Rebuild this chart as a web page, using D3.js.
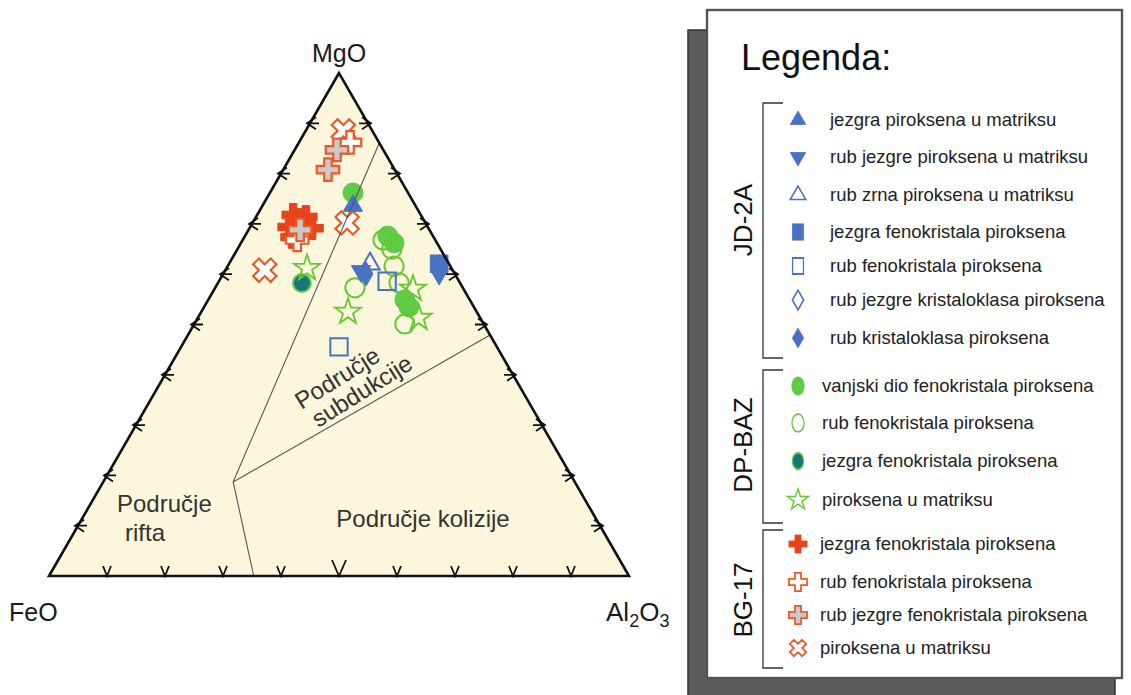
<!DOCTYPE html>
<html><head><meta charset="utf-8">
<script src="https://cdn.jsdelivr.net/npm/d3@7"></script>
<style>body{margin:0;background:#fff}svg{display:block;font-family:Arial,"Liberation Sans",sans-serif}</style>
</head><body><svg id="c" width="1131" height="695"></svg>
<script>
// ---------- data (ternary compositions: [MgO, FeO, Al2O3]) ----------
const axisNames = ["MgO", "FeO", "Al2O3"];
const tickValues = [10, 20, 30, 40, 50, 60, 70, 80, 90];

// field boundaries
const boundaryJunction = [18.7, 58.9, 22.4];
const boundaryTop = [86.1, 0, 13.9];
const boundaryBottom = [0, 64.7, 35.3];
const boundaryRight = [47.9, 0, 52.1];

// BG-17
const bgCore = [[71.8,22.0,6.2],[71.4,20.0,8.6],[69.4,23.9,6.7],[70.8,21.3,7.9],[69.2,20.1,10.8],[67.4,24.4,8.2]];
const bgRim = [[86.3,5.0,8.8],[66.8,23.8,9.4]];
const bgCoreRim = [[84.7,8.0,7.3],[80.7,11.5,7.7],[68.8,22.3,8.9]];
const bgMatrix = [[88.5,5.0,6.5],[70.2,13.5,16.3],[60.8,32.4,6.8]];
// DP-BAZ
const dpOuter = [[76.1,9.5,14.3],[67.6,7.8,24.6],[66.2,7.4,26.4],[54.9,11.2,33.9],[53.5,11.2,35.3]];
const dpRim = [[66.8,9.0,24.2],[65.0,8.4,26.6],[61.6,9.7,28.7],[58.3,10.5,31.2],[57.3,18.6,24.1],[50.1,13.6,36.3]];
const dpCore = [[58.3,27.3,14.5]];
const dpMatrix = [[61.2,24.9,13.9],[52.5,22.2,25.3],[57.1,8.7,34.2],[51.3,10.6,38.1]];
// JD-2A
const jdMatrixCore = [[73.6,10.8,15.6]];
const jdMatrixCoreRim = [[60.6,15.9,23.5]];
const jdGrainRim = [[62.0,13.6,24.3]];
const jdPhenoCore = [[62.0,1.7,36.2]];
const jdPhenoRim = [[58.6,12.4,29.0],[45.5,27.2,27.2]];
const jdClastCoreRim = [];
const jdClastRim = [[60.2,2.6,37.1],[60.0,15.3,24.6]];

// legend
const legendTitle = "Legenda:";
const groupNames = ["JD-2A", "DP-BAZ", "BG-17"];
const jdLabels = ["jezgra piroksena u matriksu","rub jezgre piroksena u matriksu","rub zrna piroksena u matriksu","jezgra fenokristala piroksena","rub fenokristala piroksena","rub jezgre kristaloklasa piroksena","rub kristaloklasa piroksena"];
const dpLabels = ["vanjski dio fenokristala piroksena","rub fenokristala piroksena","jezgra fenokristala piroksena","piroksena u matriksu"];
const bgLabels = ["jezgra fenokristala piroksena","rub fenokristala piroksena","rub jezgre fenokristala piroksena","piroksena u matriksu"];
const fieldLabels = ["Područje rifta","Područje kolizije","Područje subdukcije"];

// ---------- styles ----------
const BLUE="#4a72c4", GREEN="#5fcb46", GREEN_L="#66c832", TEAL="#17767a", RED="#e8431b", ORANGE="#ea5a26", GRAY="#c9c9c9";
const styles = {
  bgCore:{sym:d3.symbolCross,size:280,fill:RED,stroke:RED,sw:1},
  bgRim:{sym:d3.symbolCross,size:280,fill:"#fff",stroke:ORANGE,sw:2.2},
  bgCoreRim:{sym:d3.symbolCross,size:280,fill:GRAY,stroke:ORANGE,sw:2.2},
  bgMatrix:{sym:d3.symbolCross,size:340,fill:"#fff",stroke:ORANGE,sw:2.2,rot:45},
  dpOuter:{sym:d3.symbolCircle,size:310,fill:GREEN,stroke:GREEN,sw:1},
  dpRim:{sym:d3.symbolCircle,size:290,fill:"none",stroke:GREEN_L,sw:2},
  dpCore:{sym:d3.symbolCircle,size:250,fill:TEAL,stroke:GREEN,sw:2},
  dpMatrix:{sym:d3.symbolStar,size:210,fill:"none",stroke:GREEN_L,sw:1.8},
  jdMatrixCore:{sym:d3.symbolTriangle,size:160,fill:BLUE,stroke:BLUE,sw:1},
  jdMatrixCoreRim:{sym:d3.symbolTriangle,size:160,fill:BLUE,stroke:BLUE,sw:1,rot:180},
  jdGrainRim:{sym:d3.symbolTriangle,size:160,fill:"none",stroke:BLUE,sw:2},
  jdPhenoCore:{sym:d3.symbolSquare,size:310,fill:BLUE,stroke:BLUE,sw:1},
  jdPhenoRim:{sym:d3.symbolSquare,size:300,fill:"none",stroke:BLUE,sw:2},
  jdClastCoreRim:{sym:d3.symbolDiamond,size:170,fill:"none",stroke:BLUE,sw:2},
  jdClastRim:{sym:d3.symbolDiamond,size:170,fill:BLUE,stroke:BLUE,sw:1}
};

const svg = d3.select("#c");
const xS = d3.scaleLinear().domain([0,100]).range([49,629]);
const yS = d3.scaleLinear().domain([0,100]).range([576,73]);
function proj(p){ const s=p[0]+p[1]+p[2]; const mg=p[0]/s*100, al=p[2]/s*100; return [xS(al+mg/2), yS(mg)]; }

// ---------- triangle ----------
const corners = [[100,0,0],[0,100,0],[0,0,100]].map(proj);
svg.append("path").attr("d","M"+corners.map(c=>c.join(",")).join("L")+"Z")
  .attr("fill","#fcf6dc").attr("stroke","none");

// field labels
const g = svg.append("g").attr("fill","#333").attr("font-size",24);
g.append("text").attr("x",117).attr("y",512).text("Područje");
g.append("text").attr("x",125).attr("y",541).text("rifta");
g.append("text").attr("x",423).attr("y",527).attr("text-anchor","middle").text(fieldLabels[1]);
const sub = g.append("g").attr("transform","translate(354,382) rotate(-32)");
sub.append("text").attr("x",-12).attr("y",-4).attr("text-anchor","middle").text("Područje");
sub.append("text").attr("x",2).attr("y",20).attr("text-anchor","middle").text("subdukcije");

// markers
const drawOrder = ["bgMatrix","bgCore","bgRim","bgCoreRim","dpOuter","dpRim","dpCore","dpMatrix","jdPhenoRim","jdClastRim","jdMatrixCoreRim","jdGrainRim","jdMatrixCore","jdPhenoCore","jdClastCoreRim"];
const dataMap = {bgCore,bgRim,bgCoreRim,bgMatrix,dpOuter,dpRim,dpCore,dpMatrix,jdMatrixCore,jdMatrixCoreRim,jdGrainRim,jdPhenoCore,jdPhenoRim,jdClastCoreRim,jdClastRim};
const mg = svg.append("g");
drawOrder.forEach(k=>{
  const st=styles[k];
  mg.selectAll(null).data(dataMap[k]).enter().append("path")
    .attr("d", d3.symbol().type(st.sym).size(st.size))
    .attr("transform", d=>{const p=proj(d); return `translate(${p[0]},${p[1]}) rotate(${st.rot||0})`;})
    .attr("fill",st.fill).attr("stroke",st.stroke).attr("stroke-width",st.sw).attr("stroke-linejoin","miter");
});

// boundaries
const bl = svg.append("g").attr("stroke","#555").attr("stroke-width",1.1).attr("fill","none");
[[boundaryJunction,boundaryTop],[boundaryJunction,boundaryBottom],[boundaryJunction,boundaryRight]].forEach(s=>{
  const a=proj(s[0]), b=proj(s[1]);
  bl.append("line").attr("x1",a[0]).attr("y1",a[1]).attr("x2",b[0]).attr("y2",b[1]);
});

// outline
svg.append("path").attr("d","M"+corners.map(c=>c.join(",")).join("L")+"Z")
  .attr("fill","none").attr("stroke","#111").attr("stroke-width",2.6).attr("stroke-linejoin","miter");

// ticks
const tk = svg.append("g").attr("stroke","#111").attr("stroke-width",1.8).attr("fill","none");
tickValues.forEach(t=>{
  const b = proj([0,100-t,t]);
  const w = t===50?7:4, h=t===50?16:10;
  tk.append("path").attr("d",`M${b[0]-w},${b[1]-h}L${b[0]},${b[1]}L${b[0]+w},${b[1]-h}`);
  const l = proj([t,100-t,0]);
  tk.append("path").attr("d",`M${l[0]+6},${l[1]-6}L${l[0]-3},${l[1]}L${l[0]+6},${l[1]+6}M${l[0]-3},${l[1]}L${l[0]+9},${l[1]}`);
  const r = proj([t,0,100-t]);
  tk.append("path").attr("d",`M${r[0]-6},${r[1]-6}L${r[0]+3},${r[1]}L${r[0]-6},${r[1]+6}M${r[0]+3},${r[1]}L${r[0]-9},${r[1]}`);
});

// axis labels
const al = svg.append("g").attr("fill","#1a1a1a").attr("font-size",25);
al.append("text").attr("x",corners[0][0]).attr("y",62).attr("text-anchor","middle").text(axisNames[0]);
al.append("text").attr("x",9).attr("y",621).text(axisNames[1]);
const a3 = al.append("text").attr("x",606).attr("y",621).attr("font-size",26);
a3.append("tspan").text("Al");
a3.append("tspan").attr("font-size",18).attr("dy",6).text("2");
a3.append("tspan").attr("dy",-6).text("O");
a3.append("tspan").attr("font-size",18).attr("dy",6).text("3");

// ---------- legend ----------
const lg = svg.append("g");
lg.append("rect").attr("x",688).attr("y",30).attr("width",427).attr("height",680).attr("fill","#5b5b5b").attr("stroke","#333").attr("stroke-width",1.5);
lg.append("rect").attr("x",707).attr("y",10).attr("width",415).attr("height",668).attr("fill","#fff").attr("stroke","#555").attr("stroke-width",2.4);
lg.append("text").attr("x",741).attr("y",70).attr("font-size",36).attr("fill","#111").text(legendTitle);

const groups = [
  {name:groupNames[0], y0:103, y1:358, labelY:220, labels:jdLabels, keys:["jdMatrixCore","jdMatrixCoreRim","jdGrainRim","jdPhenoCore","jdPhenoRim","jdClastCoreRim","jdClastRim"], ys:[120,157,195,232,266,300,338], tx:830},
  {name:groupNames[1], y0:370, y1:523, labelY:445, labels:dpLabels, keys:["dpOuter","dpRim","dpCore","dpMatrix"], ys:[386,423,461,500], tx:822},
  {name:groupNames[2], y0:530, y1:668, labelY:600, labels:bgLabels, keys:["bgCore","bgRim","bgCoreRim","bgMatrix"], ys:[544,582,615,648], tx:820}
];
groups.forEach(gr=>{
  lg.append("path").attr("d",`M783,${gr.y0}H763V${gr.y1}H783`).attr("fill","none").attr("stroke","#333").attr("stroke-width",1.3);
  lg.append("text").attr("transform",`translate(752,${gr.labelY}) rotate(-90)`).attr("text-anchor","middle")
    .attr("font-size",26).attr("fill","#111").text(gr.name);
  gr.keys.forEach((k,i)=>{
    const st=styles[k];
    const squish = (st.sym===d3.symbolCircle||st.sym===d3.symbolSquare);
    lg.append("path").attr("d",d3.symbol().type(st.sym).size(st.size*(k==="bgMatrix"?0.5:0.65)))
      .attr("transform",`translate(798,${gr.ys[i]}) rotate(${st.rot||0}) scale(${squish?0.78:1},${squish?1.15:1})`)
      .attr("fill",st.fill).attr("stroke",st.stroke).attr("stroke-width",st.sw*0.8);
    lg.append("text").attr("x",gr.tx).attr("y",gr.ys[i]+6).attr("font-size",18.5).attr("fill","#222").text(gr.labels[i]);
  });
});
</script></body></html>
